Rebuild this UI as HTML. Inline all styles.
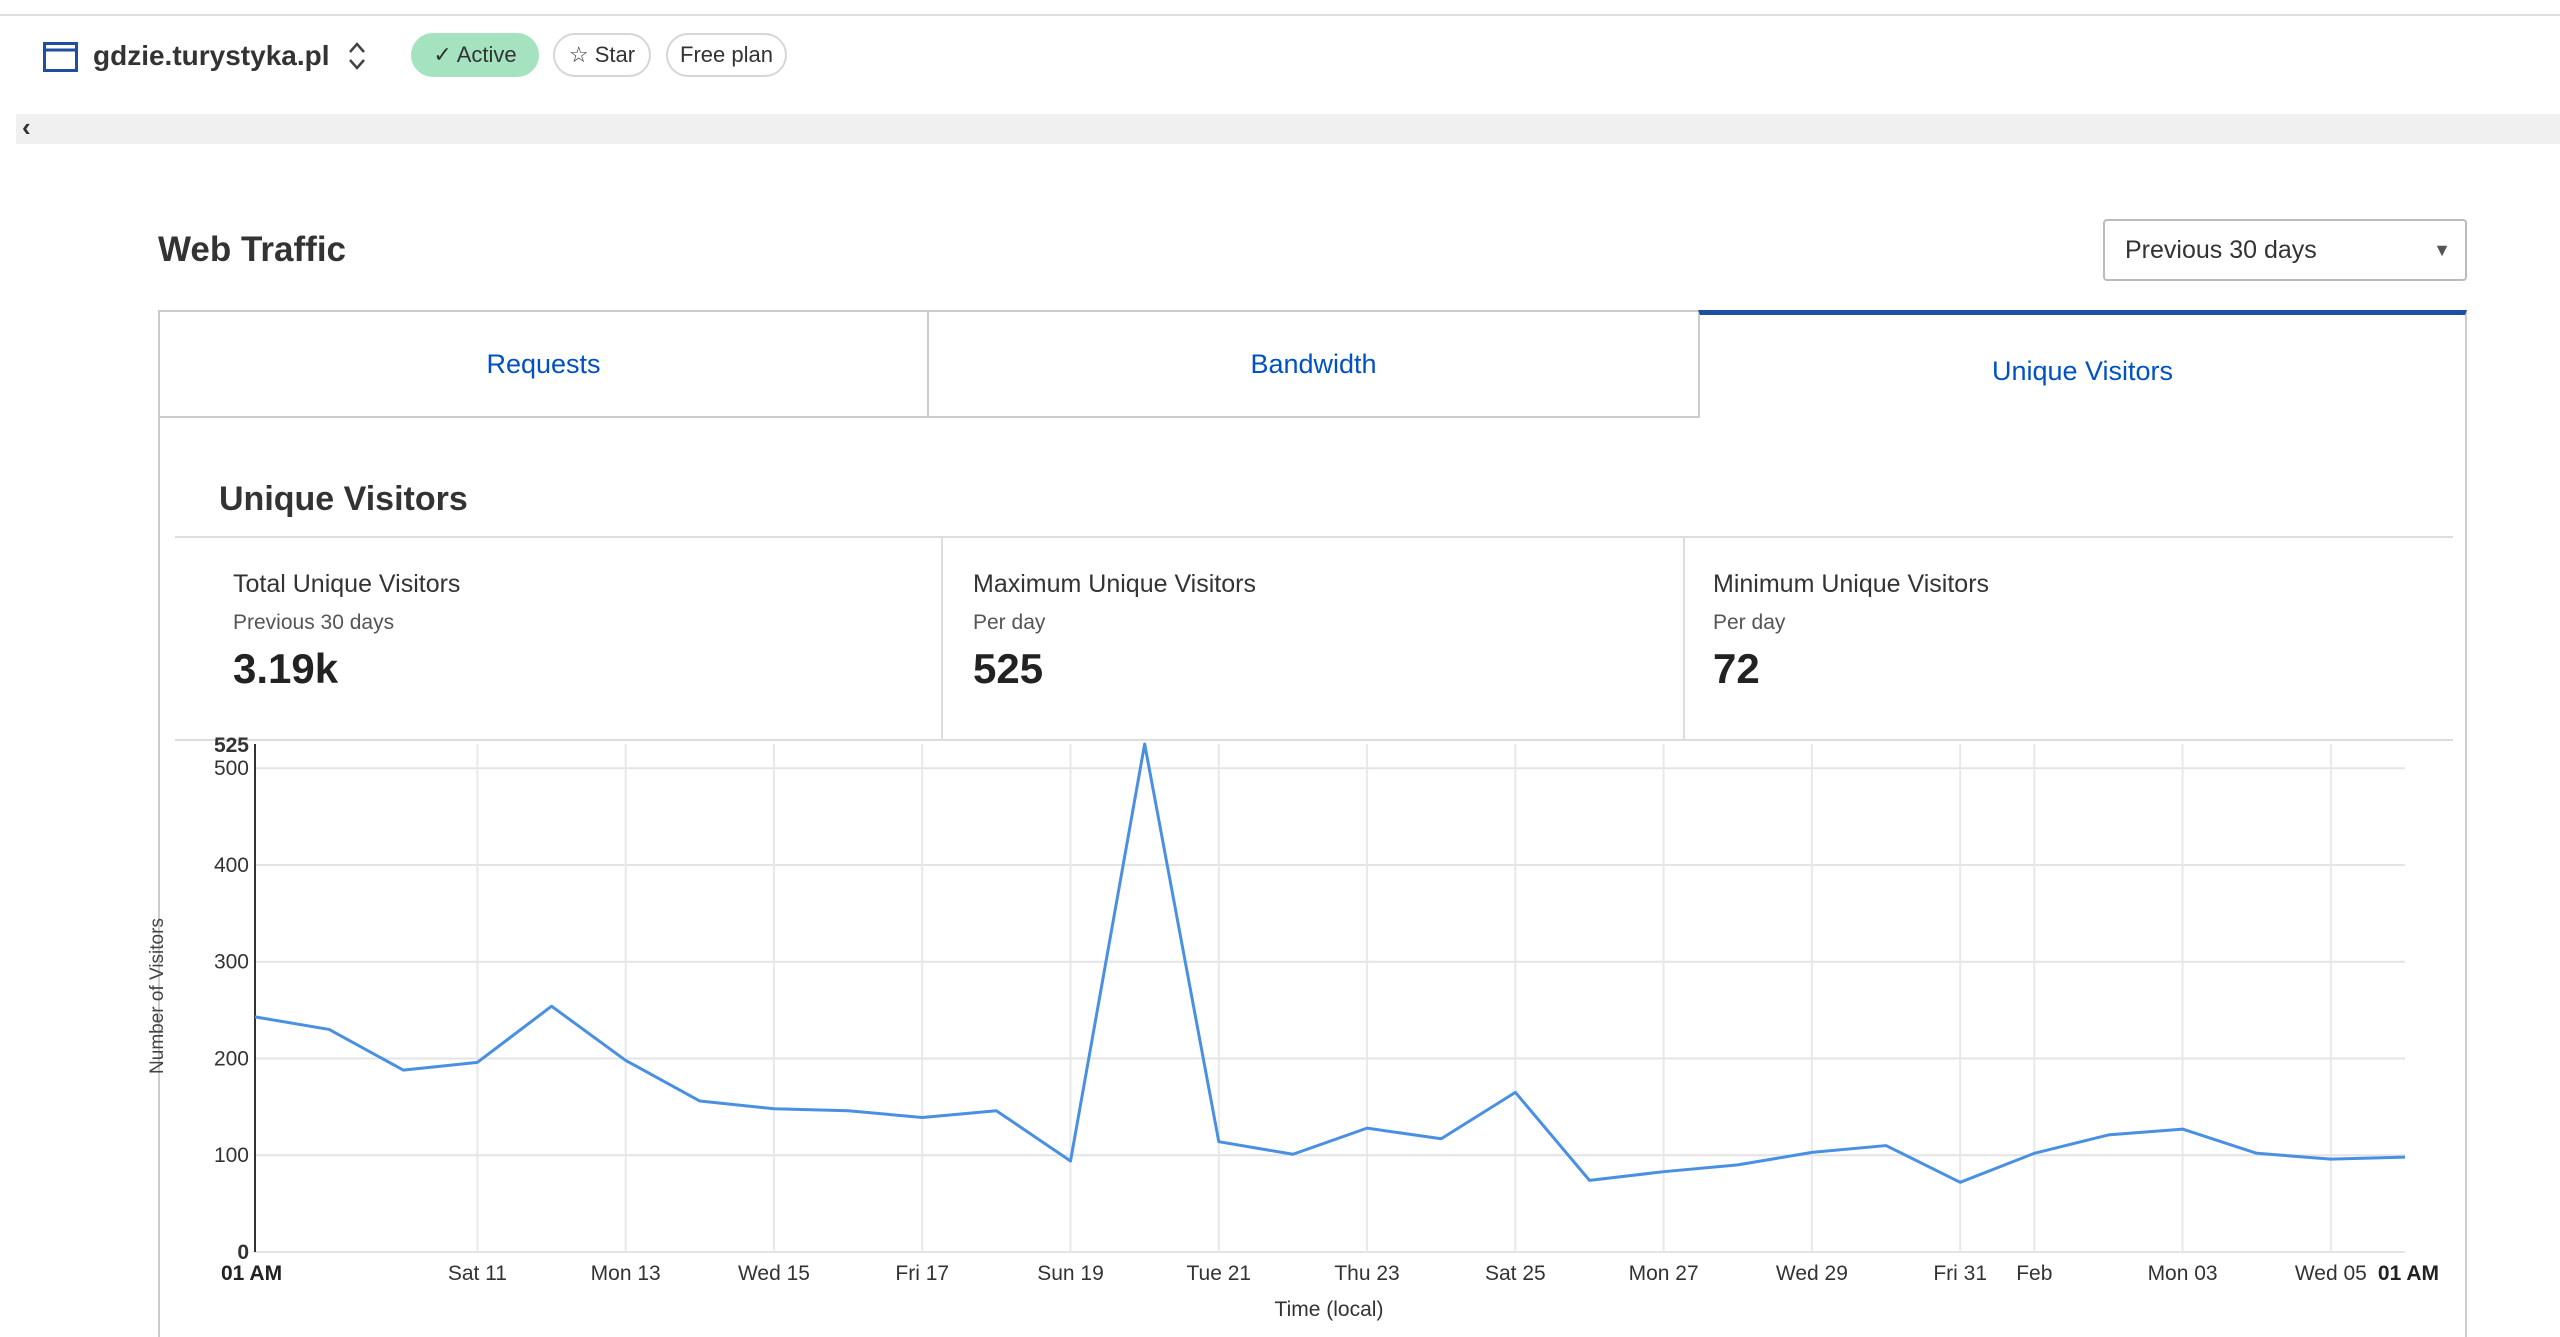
<!DOCTYPE html>
<html><head><meta charset="utf-8"><style>
html,body{margin:0;width:2560px;height:1337px;overflow:hidden}
body{background:#fff;font-family:"Liberation Sans",sans-serif;color:#222;position:relative}
.a{position:absolute}
.pill{position:absolute;top:33px;height:44px;border-radius:22px;border:2px solid #d6d6d6;box-sizing:border-box;font-size:22px;line-height:40px;text-align:center;color:#333}
.tab{position:absolute;top:310px;height:108px;box-sizing:border-box;border:2px solid #ccc;font-size:27px;color:#0051c3;text-align:center;line-height:104px;background:#fff}
.st{font-size:25px;color:#333}.sub{font-size:21px;color:#555}.val{font-size:42px;font-weight:bold;color:#222}
</style></head><body>
<div class="a" style="left:0;top:14px;width:2560px;height:2px;background:#ddd"></div>
<svg class="a" style="left:43px;top:42px" width="35" height="30"><rect x="1.5" y="1.5" width="32" height="27" fill="none" stroke="#1f4fa0" stroke-width="3"/><line x1="1.5" y1="8" x2="33" y2="8" stroke="#1f4fa0" stroke-width="3"/></svg>
<div class="a" style="left:93px;top:40px;font-size:28px;font-weight:bold;color:#333">gdzie.turystyka.pl</div>
<svg class="a" style="left:346px;top:40px" width="22" height="32"><polyline points="4,12 11,4 18,12" fill="none" stroke="#444" stroke-width="2.5"/><polyline points="4,20 11,28 18,20" fill="none" stroke="#444" stroke-width="2.5"/></svg>
<div class="pill" style="left:411px;width:128px;background:#a5e3c0;border-color:#a5e3c0">✓ Active</div>
<div class="pill" style="left:553px;width:98px">☆ Star</div>
<div class="pill" style="left:666px;width:121px">Free plan</div>
<div class="a" style="left:16px;top:114px;width:2544px;height:30px;background:#f0f0f0"></div>
<div class="a" style="left:22px;top:112px;font-size:26px;font-weight:bold;color:#333">‹</div>
<div class="a" style="left:158px;top:230px;font-size:35px;font-weight:bold;color:#333">Web Traffic</div>
<div class="a" style="left:2103px;top:219px;width:364px;height:62px;box-sizing:border-box;border:2px solid #bbb;border-radius:4px;font-size:25px;line-height:58px;padding-left:20px;color:#333">Previous 30 days<span style="position:absolute;right:14px;top:0;font-size:18px;color:#555">▼</span></div>
<div class="a" style="left:158px;top:310px;width:2309px;height:1027px;box-sizing:border-box;border:2px solid #ccc;border-bottom:none"></div>
<div class="tab" style="left:158px;width:771px">Requests</div>
<div class="tab" style="left:927px;width:773px">Bandwidth</div>
<div class="tab" style="left:1698px;width:769px;border-top:5px solid #1f4fa0;border-bottom:none;line-height:112px">Unique Visitors</div>
<div class="a" style="left:219px;top:480px;font-size:34px;font-weight:bold;color:#333">Unique Visitors</div>
<div class="a" style="left:175px;top:536px;width:2278px;height:2px;background:#ddd"></div>
<div class="a" style="left:175px;top:739px;width:2278px;height:2px;background:#ddd"></div>
<div class="a" style="left:941px;top:537px;width:2px;height:203px;background:#ddd"></div>
<div class="a" style="left:1683px;top:537px;width:2px;height:203px;background:#ddd"></div>
<div class="a" style="left:233px;top:570px"><div class="st">Total Unique Visitors</div><div class="sub" style="margin-top:12px">Previous 30 days</div><div class="val" style="margin-top:10px">3.19k</div></div>
<div class="a" style="left:973px;top:570px"><div class="st">Maximum Unique Visitors</div><div class="sub" style="margin-top:12px">Per day</div><div class="val" style="margin-top:10px">525</div></div>
<div class="a" style="left:1713px;top:570px"><div class="st">Minimum Unique Visitors</div><div class="sub" style="margin-top:12px">Per day</div><div class="val" style="margin-top:10px">72</div></div>
<svg id="chart" class="a" style="left:0;top:0" width="2560" height="1337"></svg>
<script>
const values=[243,230,188,196,254,198,156,148,146,139,146,94,525,114,101,128,117,165,74,83,90,103,110,72,102,121,127,102,96,98];
const yTicks=[0,100,200,300,400,500];
const xTickIdx=[3,5,7,9,11,13,15,17,19,21,23,24,26,28];
const xTickLabels=["Sat 11","Mon 13","Wed 15","Fri 17","Sun 19","Tue 21","Thu 23","Sat 25","Mon 27","Wed 29","Fri 31","Feb","Mon 03","Wed 05"];
const X0=255,X1=2405,Y0=1252,YMAX=525,YTOP=744;
const xs=i=>X0+(X1-X0)*i/(values.length-1);
const ys=v=>Y0-(Y0-YTOP)*v/YMAX;
const svg=document.getElementById('chart');const NS='http://www.w3.org/2000/svg';
function mk(t,a){const e=document.createElementNS(NS,t);for(const k in a)e.setAttribute(k,a[k]);svg.appendChild(e);return e;}
yTicks.forEach(v=>{const l=mk('line',{x1:X0,x2:X1,y1:ys(v),y2:ys(v),stroke:'#e4e4e4','stroke-width':2});


const t=mk('text',{x:X0-6,y:ys(v)+7,'text-anchor':'end','font-size':21,fill:'#333','font-family':'Liberation Sans',"font-weight":v===0?'bold':'normal'});t.textContent=v;

});
const tm=mk('text',{x:X0-6,y:YTOP+8,'text-anchor':'end','font-size':21,'font-weight':'bold',fill:'#333','font-family':'Liberation Sans'});tm.textContent=YMAX;


xTickIdx.forEach((ix,k)=>{const l=mk('line',{x1:xs(ix),x2:xs(ix),y1:YTOP,y2:Y0,stroke:'#e8e8e8','stroke-width':2});


const t=mk('text',{x:xs(ix),y:1280,'text-anchor':'middle','font-size':21,fill:'#333','font-family':'Liberation Sans'});t.textContent=xTickLabels[k];

});
[0,values.length-1].forEach(ix=>{const t=mk('text',{x:ix===0?xs(ix)-34:xs(ix)+34,y:1280,'text-anchor':ix===0?'start':'end','font-size':21,'font-weight':'bold',fill:'#222','font-family':'Liberation Sans'});t.textContent='01 AM';

});
const ax=mk('line',{x1:X0,x2:X0,y1:YTOP,y2:Y0,stroke:'#333','stroke-width':2});


const p=mk('polyline',{points:values.map((v,i)=>xs(i)+','+ys(v)).join(' '),fill:'none',stroke:'#4a90e2','stroke-width':3,'stroke-linejoin':'round'});


const yt=mk('text',{x:0,y:0,transform:'translate(163,996) rotate(-90)','text-anchor':'middle','font-size':19,fill:'#444','font-family':'Liberation Sans'});yt.textContent='Number of Visitors';


const xt=mk('text',{x:1329,y:1316,'text-anchor':'middle','font-size':21,fill:'#333','font-family':'Liberation Sans'});xt.textContent='Time (local)';


</script>
</body></html>
